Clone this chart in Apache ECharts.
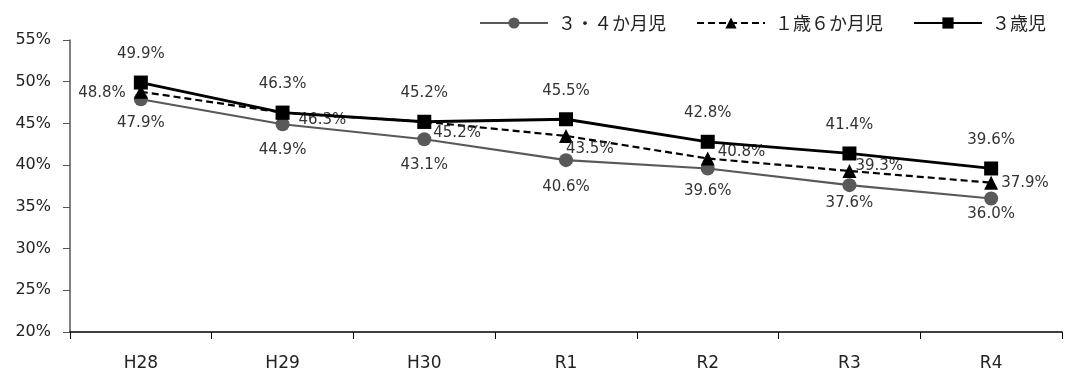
<!DOCTYPE html>
<html><head><meta charset="utf-8">
<script src="https://cdn.jsdelivr.net/npm/echarts@6/dist/echarts.min.js"></script>
<style>html,body{margin:0;padding:0;background:#fff;overflow:hidden}#c{width:1073px;height:378px}</style>
</head><body><div id="c"></div>
<script>
// ---- data ----
const categories = ['H28','H29','H30','R1','R2','R3','R4'];
const seriesNames = ['３・４か月児','１歳６か月児','３歳児'];
const infant34m = [47.9,44.9,43.1,40.6,39.6,37.6,36.0];
const infant18m = [48.8,46.3,45.2,43.5,40.8,39.3,37.9];
const child3y = [49.9,46.3,45.2,45.5,42.8,41.4,39.6];
const yTicks = [20,25,30,35,40,45,50,55];

// ---- label placement (style only, mimics the reference's hand-placed labels) ----
const triLabelShift = [[0,1.5],[9,8],[2,11],[-7,13],[3,-6],[-1,-5],[3,0]];
const circLabelShift = [9.5,11.5,11.5,12.5,8.5,3.5,1.5];

const numFont = '"DejaVu Sans", Verdana, sans-serif';
const lblFmt = p => p.value.toFixed(1) + '%';
const baseLbl = {show:true,formatter:lblFmt,fontFamily:numFont,fontSize:15,color:'#333'};

const chart = echarts.init(document.getElementById('c'));
chart.setOption({
  animation:false,
  grid:{left:70,right:11,top:40,bottom:46},
  legend:{
    right:22, top:9, itemWidth:68, itemHeight:14, itemGap:30,
    textStyle:{fontFamily:'"Noto Sans CJK JP", sans-serif', fontSize:18, color:'#222', padding:[0,0,0,5]},
    data:seriesNames
  },
  xAxis:{
    type:'category', data:categories, boundaryGap:true,
    axisLine:{lineStyle:{color:'#000',width:1.5}},
    axisTick:{show:true,length:7,lineStyle:{color:'#000'}},
    axisLabel:{fontFamily:numFont,fontSize:17,color:'#222',margin:23}
  },
  yAxis:{
    type:'value', min:yTicks[0], max:yTicks[yTicks.length-1], interval:5,
    axisLine:{show:true,lineStyle:{color:'#555',width:1.5}},
    axisTick:{show:true,length:7,lineStyle:{color:'#555'}},
    splitLine:{show:false},
    axisLabel:{fontFamily:numFont,fontSize:16,color:'#222',margin:19,formatter:v=>v+'%'}
  },
  series:[
    {name:seriesNames[0],type:'line',symbol:'circle',symbolSize:14,
     data:infant34m.map((v,i)=>({value:v,label:{offset:[0,circLabelShift[i]]}})),
     lineStyle:{color:'#595959',width:2.2},itemStyle:{color:'#595959'},
     label:Object.assign({},baseLbl,{position:'bottom',distance:0}),z:2},
    {name:seriesNames[1],type:'line',symbol:'triangle',symbolSize:14,
     data:infant18m.map((v,i)=>i===0
        ? {value:v,label:{position:'left',distance:8,offset:triLabelShift[i]}}
        : {value:v,label:{offset:triLabelShift[i]}}),
     lineStyle:{color:'#000',width:2.2,type:[7,4]},itemStyle:{color:'#000'},
     label:Object.assign({},baseLbl,{position:'right',distance:0}),z:3},
    {name:seriesNames[2],type:'line',symbol:'rect',symbolSize:14,
     data:child3y,
     lineStyle:{color:'#000',width:2.8},itemStyle:{color:'#000'},
     label:Object.assign({},baseLbl,{position:'top',distance:14}),z:4}
  ]
});
</script></body></html>
